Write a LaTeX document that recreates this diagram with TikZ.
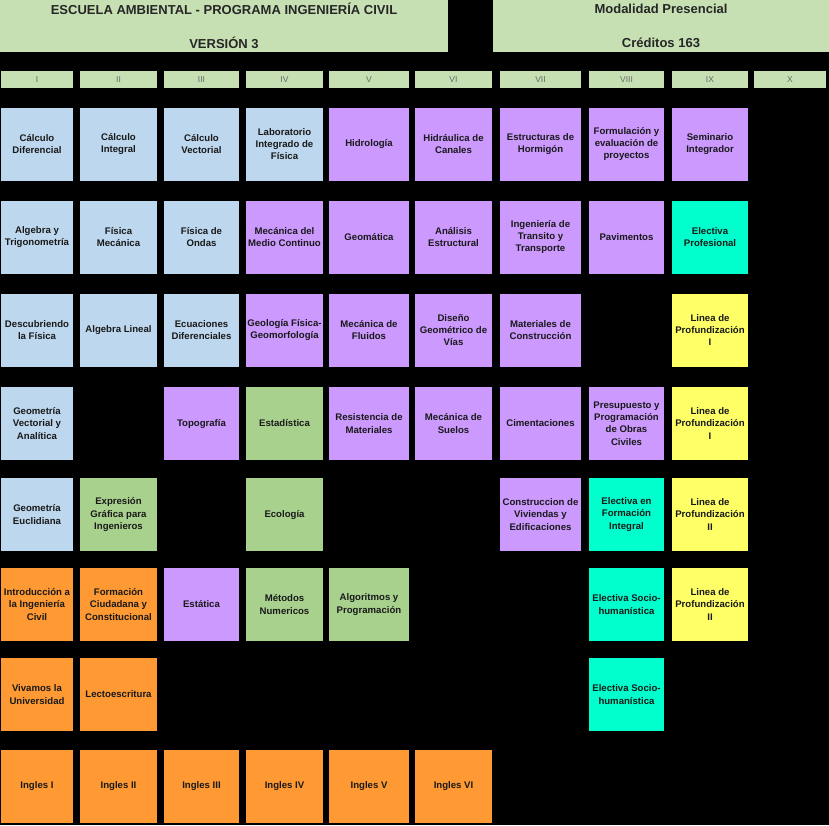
\documentclass[tikz,border=0pt]{standalone}
\usepackage{fontspec}
\setmainfont{Liberation Sans}
\usetikzlibrary{positioning}

\definecolor{hdrgreen}{HTML}{C6E0B4}
\definecolor{basblue}{HTML}{BDD7EE}
\definecolor{profpurple}{HTML}{CC99FF}
\definecolor{compgreen}{HTML}{A9D18E}
\definecolor{humorange}{HTML}{FF9933}
\definecolor{electcyan}{HTML}{00FFCC}
\definecolor{lineyellow}{HTML}{FFFF66}

\begin{document}
\begin{tikzpicture}[x=1pt,y=-1pt,
  hdr/.style={rectangle,fill=hdrgreen,minimum height=52pt,align=center,text=black!85,font=\bfseries\fontsize{13}{15.6}\selectfont},
  sem/.style={rectangle,fill=hdrgreen,minimum width=76pt,minimum height=17pt,inner sep=0pt,text=black!60,font=\fontsize{8.5}{10}\selectfont},
  curso/.style={rectangle,minimum width=76pt,minimum height=73pt,inner sep=1pt,align=center,text=black!90,font=\bfseries\fontsize{9.6}{12.3}\selectfont},
  bas/.style={curso,fill=basblue},
  prof/.style={curso,fill=profpurple},
  comp/.style={curso,fill=compgreen},
  hum/.style={curso,fill=humorange},
  elec/.style={curso,fill=electcyan},
  lin/.style={curso,fill=lineyellow}
]
  \fill[black] (0,0) rectangle (829,825);
  \useasboundingbox (0,0) rectangle (829,825);

  % encabezado
  \node[hdr,minimum width=448pt] (titulo) at (224,26) {ESCUELA AMBIENTAL - PROGRAMA INGENIERÍA CIVIL\\[19pt]VERSIÓN 3};
  \node[hdr,minimum width=336pt] (modal) at (661,26) {Modalidad Presencial\\[19pt]Créditos 163};

  % semestres
  \node[sem,minimum width=72pt](s1) at (37,79.5)   {I};
  \node[sem,minimum width=77pt](s2) at (118.5,79.5){II};
  \node[sem,minimum width=75pt](s3) at (201.5,79.5){III};
  \node[sem,minimum width=77pt](s4) at (284.5,79.5){IV};
  \node[sem,minimum width=80pt](s5) at (369,79.5)  {V};
  \node[sem,minimum width=77pt](s6) at (453.5,79.5){VI};
  \node[sem,minimum width=81pt](s7) at (540.5,79.5){VII};
  \node[sem,minimum width=75pt](s8) at (626.5,79.5){VIII};
  \node[sem,minimum width=76pt](s9) at (710,79.5)  {IX};
  \node[sem,minimum width=72pt](s10)at (790,79.5)  {X};

  % fila 1
  \node[bas,minimum width=72pt] (calcdif) at (37,144)   {Cálculo\\Diferencial};
  \node[bas,minimum width=77pt] (calcint) at (118.5,144){Cálculo\\Integral};
  \node[bas,minimum width=75pt] (calcvec) at (201.5,144){Cálculo\\Vectorial};
  \node[bas,minimum width=77pt] (labfis)  at (284.5,144){Laboratorio\\Integrado de\\Física};
  \node[prof,minimum width=80pt](hidro)   at (369,144)  {Hidrología};
  \node[prof,minimum width=77pt](hidcan)  at (453.5,144){Hidráulica de\\Canales};
  \node[prof,minimum width=81pt](esthorm) at (540.5,144){Estructuras de\\Hormigón};
  \node[prof,minimum width=75pt](formeval)at (626.5,144){Formulación y\\evaluación de\\proyectos};
  \node[prof](seminar) at (710,144)  {Seminario\\Integrador};

  % fila 2
  \node[bas,minimum width=72pt] (algtrig) at (37,237)   {Algebra y\\Trigonometría};
  \node[bas,minimum width=77pt] (fismec)  at (118.5,237){Física\\Mecánica};
  \node[bas,minimum width=75pt] (fisond)  at (201.5,237){Física de\\Ondas};
  \node[prof,minimum width=77pt](mecmed)  at (284.5,237){Mecánica del\\Medio Continuo};
  \node[prof,minimum width=80pt](geomat)  at (369,237)  {Geomática};
  \node[prof,minimum width=77pt](analest) at (453.5,237){Análisis\\Estructural};
  \node[prof,minimum width=81pt](ingtran) at (540.5,237){Ingeniería de\\Transito y\\Transporte};
  \node[prof,minimum width=75pt](pavim)   at (626.5,237){Pavimentos};
  \node[elec](elecprof)at (710,237)  {Electiva\\Profesional};

  % fila 3
  \node[bas,minimum width=72pt] (descfis) at (37,330)   {Descubriendo\\la Física};
  \node[bas,minimum width=77pt] (alglin)  at (118.5,330){Algebra Lineal};
  \node[bas,minimum width=75pt] (ecdif)   at (201.5,330){Ecuaciones\\Diferenciales};
  \node[prof,minimum width=77pt](geolog)  at (284.5,330){Geología Física-\\Geomorfología};
  \node[prof,minimum width=80pt](mecflu)  at (369,330)  {Mecánica de\\Fluidos};
  \node[prof,minimum width=77pt](disgeo)  at (453.5,330){Diseño\\Geométrico de\\Vías};
  \node[prof,minimum width=81pt](matcons) at (540.5,330){Materiales de\\Construcción};
  \node[lin] (linea1a) at (710,330)  {Linea de\\Profundización\\I};

  % fila 4
  \node[bas,minimum width=72pt] (geovec)  at (37,423.5)   {Geometría\\Vectorial y\\Analítica};
  \node[prof,minimum width=75pt](topog)   at (201.5,423.5){Topografía};
  \node[comp,minimum width=77pt](estad)   at (284.5,423.5){Estadística};
  \node[prof,minimum width=80pt](resmat)  at (369,423.5)  {Resistencia de\\Materiales};
  \node[prof,minimum width=77pt](mecsue)  at (453.5,423.5){Mecánica de\\Suelos};
  \node[prof,minimum width=81pt](ciment)  at (540.5,423.5){Cimentaciones};
  \node[prof,minimum width=75pt](presup)  at (626.5,423.5){Presupuesto y\\Programación\\de Obras\\Civiles};
  \node[lin] (linea1b) at (710,423.5)  {Linea de\\Profundización\\I};

  % fila 5
  \node[bas,minimum width=72pt] (geoeuc)  at (37,514.5)   {Geometría\\Euclidiana};
  \node[comp,minimum width=77pt](expgraf) at (118.5,514.5){Expresión\\Gráfica para\\Ingenieros};
  \node[comp,minimum width=77pt](ecolog)  at (284.5,514.5){Ecología};
  \node[prof,minimum width=81pt](consviv) at (540.5,514.5){Construccion de\\Viviendas y\\Edificaciones};
  \node[elec,minimum width=75pt](elecint) at (626.5,514.5){Electiva en\\Formación\\Integral};
  \node[lin] (linea2a) at (710,514.5)  {Linea de\\Profundización\\II};

  % fila 6
  \node[hum,minimum width=72pt] (introing)at (37,604.5)   {Introducción a\\la Ingeniería\\Civil};
  \node[hum,minimum width=77pt] (formciu) at (118.5,604.5){Formación\\Ciudadana y\\Constitucional};
  \node[prof,minimum width=75pt](estat)   at (201.5,604.5){Estática};
  \node[comp,minimum width=77pt](metnum)  at (284.5,604.5){Métodos\\Numericos};
  \node[comp,minimum width=80pt](algprog) at (369,604.5)  {Algoritmos y\\Programación};
  \node[elec,minimum width=75pt](elecsoc1)at (626.5,604.5){Electiva Socio-\\humanística};
  \node[lin] (linea2b) at (710,604.5)  {Linea de\\Profundización\\II};

  % fila 7
  \node[hum,minimum width=72pt] (vivuni)  at (37,694.5)   {Vivamos la\\Universidad};
  \node[hum,minimum width=77pt] (lectoes) at (118.5,694.5){Lectoescritura};
  \node[elec,minimum width=75pt](elecsoc2)at (626.5,694.5){Electiva Socio-\\humanística};

  % fila 8
  \node[hum,minimum width=72pt] (ing1) at (37,786)   {Ingles I};
  \node[hum,minimum width=77pt] (ing2) at (118.5,786){Ingles II};
  \node[hum,minimum width=75pt] (ing3) at (201.5,786){Ingles III};
  \node[hum,minimum width=77pt] (ing4) at (284.5,786){Ingles IV};
  \node[hum,minimum width=80pt] (ing5) at (369,786)  {Ingles V};
  \node[hum,minimum width=77pt] (ing6) at (453.5,786){Ingles VI};
\end{tikzpicture}
\end{document}
